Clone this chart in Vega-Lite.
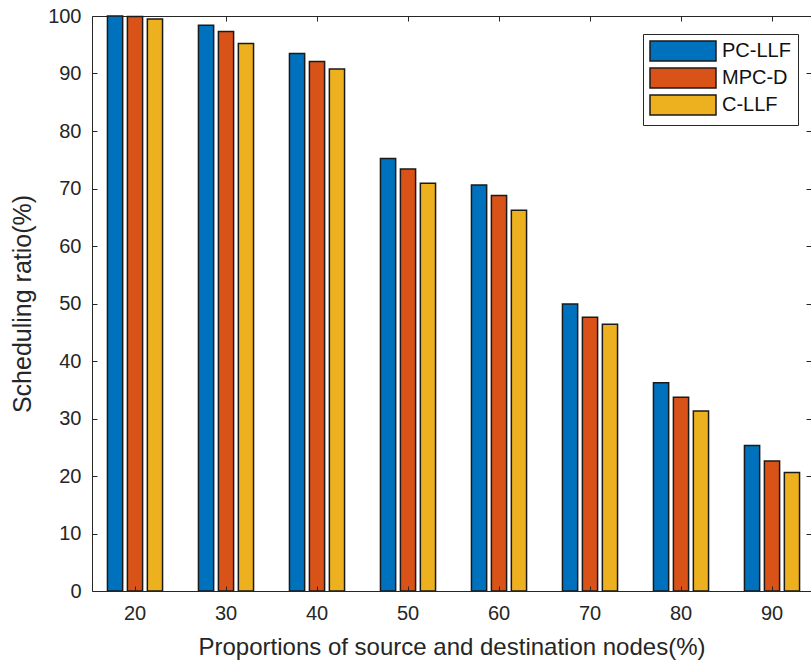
{
  "$schema": "https://vega.github.io/schema/vega-lite/v6.json",
  "width": 719,
  "height": 575,
  "autosize": {"type": "none"},
  "padding": {"left": 92, "top": 16, "right": 0, "bottom": 75},
  "background": "white",
  "config": {
    "view": {"stroke": null},
    "font": "Liberation Sans",
    "axis": {"labelFont": "Liberation Sans", "titleFont": "Liberation Sans", "titleFontWeight": "normal", "domainColor": "#262626", "tickColor": "#262626", "labelColor": "#262626", "titleColor": "#262626", "grid": false}
  },
  "data": {
    "values": [
      {"prop": "20", "method": "PC-LLF", "ratio": 100},
      {"prop": "20", "method": "MPC-D", "ratio": 99.9},
      {"prop": "20", "method": "C-LLF", "ratio": 99.5},
      {"prop": "30", "method": "PC-LLF", "ratio": 98.4},
      {"prop": "30", "method": "MPC-D", "ratio": 97.3},
      {"prop": "30", "method": "C-LLF", "ratio": 95.2},
      {"prop": "40", "method": "PC-LLF", "ratio": 93.5},
      {"prop": "40", "method": "MPC-D", "ratio": 92.1},
      {"prop": "40", "method": "C-LLF", "ratio": 90.8},
      {"prop": "50", "method": "PC-LLF", "ratio": 75.2},
      {"prop": "50", "method": "MPC-D", "ratio": 73.4},
      {"prop": "50", "method": "C-LLF", "ratio": 70.9},
      {"prop": "60", "method": "PC-LLF", "ratio": 70.6},
      {"prop": "60", "method": "MPC-D", "ratio": 68.8},
      {"prop": "60", "method": "C-LLF", "ratio": 66.2},
      {"prop": "70", "method": "PC-LLF", "ratio": 49.9},
      {"prop": "70", "method": "MPC-D", "ratio": 47.6},
      {"prop": "70", "method": "C-LLF", "ratio": 46.4},
      {"prop": "80", "method": "PC-LLF", "ratio": 36.2},
      {"prop": "80", "method": "MPC-D", "ratio": 33.7},
      {"prop": "80", "method": "C-LLF", "ratio": 31.3},
      {"prop": "90", "method": "PC-LLF", "ratio": 25.3},
      {"prop": "90", "method": "MPC-D", "ratio": 22.6},
      {"prop": "90", "method": "C-LLF", "ratio": 20.6}
    ]
  },
  "layer": [
    {
      "mark": {"type": "bar", "stroke": "#1a1a1a", "strokeWidth": 1.5},
      "encoding": {
        "x": {
          "field": "prop", "type": "nominal",
          "sort": ["20", "30", "40", "50", "60", "70", "80", "90"],
          "scale": {"paddingInner": 0.3945, "paddingOuter": 0.1478, "align": 0.5745},
          "axis": {"orient": "bottom", "title": "Proportions of source and destination nodes(%)", "labelAngle": 0, "labelFontSize": 20, "titleFontSize": 24, "tickSize": -5, "labelPadding": 17, "titlePadding": 12, "zindex": 1, "domainWidth": 1}
        },
        "xOffset": {
          "field": "method", "type": "nominal",
          "sort": ["PC-LLF", "MPC-D", "C-LLF"],
          "scale": {"paddingInner": 0.238, "paddingOuter": 0}
        },
        "y": {
          "field": "ratio", "type": "quantitative",
          "scale": {"domain": [0, 100], "nice": false},
          "axis": {"orient": "left", "title": "Scheduling ratio(%)", "values": [0, 10, 20, 30, 40, 50, 60, 70, 80, 90, 100], "labelFontSize": 20, "titleFontSize": 25, "tickSize": -5, "labelPadding": 16, "titlePadding": 12, "zindex": 1}
        },
        "color": {
          "field": "method", "type": "nominal",
          "scale": {"domain": ["PC-LLF", "MPC-D", "C-LLF"], "range": ["#0072BD", "#D95319", "#EDB120"]},
          "legend": {
            "orient": "none", "legendX": 551, "legendY": 18, "title": null,
            "symbolType": "M-6.6,-2H6.6V2H-6.6Z", "symbolSize": 100,
            "symbolStrokeColor": "#1a1a1a", "symbolStrokeWidth": 1.5, "symbolOpacity": 1,
            "symbolOffset": 23, "labelOffset": 29, "labelFontSize": 20, "labelFont": "Liberation Sans", "labelColor": "#111111",
            "strokeColor": "#262626", "fillColor": "white", "padding": 7, "rowPadding": 1
          }
        }
      }
    },
    {
      "mark": {"type": "bar", "opacity": 0},
      "encoding": {
        "x": {
          "field": "prop", "type": "nominal",
          "sort": ["20", "30", "40", "50", "60", "70", "80", "90"],
          "axis": {"orient": "top", "title": null, "labels": false, "tickSize": -5, "domain": true}
        },
        "y": {
          "field": "ratio", "type": "quantitative",
          "axis": {"orient": "right", "title": null, "labels": false, "values": [0, 10, 20, 30, 40, 50, 60, 70, 80, 90, 100], "tickSize": -5, "domain": false}
        }
      }
    }
  ],
  "resolve": {"axis": {"x": "independent", "y": "independent"}}
}
